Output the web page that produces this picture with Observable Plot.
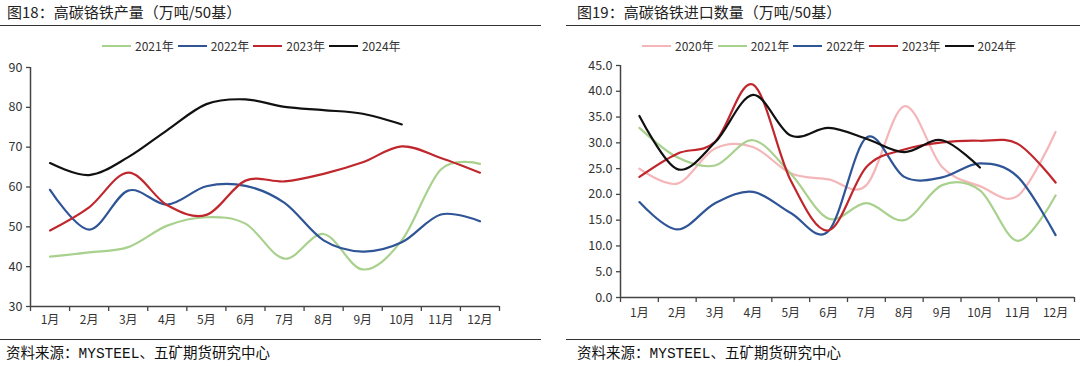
<!DOCTYPE html>
<html>
<head>
<meta charset="utf-8">
<script src="https://cdn.jsdelivr.net/npm/d3@7"></script>
<script src="https://cdn.jsdelivr.net/npm/@observablehq/plot@0.6"></script>
<style>
  html, body { margin: 0; padding: 0; background: #fff; }
  body { width: 1080px; height: 367px; position: relative; overflow: hidden; font-family: "Noto Sans CJK SC", "Noto Sans", sans-serif; color: #222; }
  .title { position: absolute; top: 2px; font-size: 15px; line-height: 20px; color: #222; white-space: nowrap; }
  .rule { position: absolute; height: 0; border-top: 1.4px solid #333; }
  .source { position: absolute; top: 344px; font-size: 14.5px; line-height: 20px; color: #111; white-space: nowrap; font-family: "Liberation Mono", "Noto Sans CJK SC", monospace; }
  .legend { position: absolute; top: 38px; display: flex; align-items: center; font-size: 12px; line-height: 16px; color: #333; white-space: nowrap; }
  .legend .item { display: flex; align-items: center; margin-right: 4px; }
  .legend .sw { width: 29px; height: 0; border-top: 2.5px solid; margin-right: 4px; }
  .chart { position: absolute; top: 55px; }
</style>
</head>
<body>
<div class="title" style="left:7px">图18：高碳铬铁产量（万吨/50基）</div>
<div class="title" style="left:577px">图19：高碳铬铁进口数量（万吨/50基）</div>
<div class="rule" style="left:0;width:541px;top:25px"></div>
<div class="rule" style="left:566px;width:514px;top:25px"></div>
<div class="rule" style="left:0;width:541px;top:339px"></div>
<div class="rule" style="left:566px;width:514px;top:339px"></div>
<div class="source" style="left:6px">资料来源：MYSTEEL、五矿期货研究中心</div>
<div class="source" style="left:577px">资料来源：MYSTEEL、五矿期货研究中心</div>
<div class="legend" id="leg1" style="left:102px"></div>
<div class="legend" id="leg2" style="left:642px"></div>
<div class="chart" id="c1" style="left:0"></div>
<div class="chart" id="c2" style="left:560px"></div>
<script>
const months = ["1月","2月","3月","4月","5月","6月","7月","8月","9月","10月","11月","12月"];

// Chart 1: 高碳铬铁产量
const prodYears = ["2021年","2022年","2023年","2024年"];
const prod2021 = [42.5, 43.6, 44.9, 50.3, 52.4, 50.8, 42.0, 48.2, 39.3, 46.6, 64.4, 65.8];
const prod2022 = [59.3, 49.3, 59.1, 55.6, 60.2, 60.3, 56.0, 46.6, 43.8, 46.1, 53.1, 51.4];
const prod2023 = [49.1, 54.9, 63.6, 55.4, 53.0, 61.6, 61.4, 63.3, 66.2, 70.2, 67.3, 63.6];
const prod2024 = [66.0, 63.0, 67.5, 74.3, 80.8, 82.0, 80.1, 79.3, 78.4, 75.7];
const prodTicks = [30, 40, 50, 60, 70, 80, 90];

// Chart 2: 高碳铬铁进口数量
const impYears = ["2020年","2021年","2022年","2023年","2024年"];
const imp2020 = [25.0, 22.1, 28.9, 29.2, 24.1, 22.9, 21.8, 37.1, 25.3, 21.6, 19.7, 32.1];
const imp2021 = [32.9, 27.2, 25.6, 30.5, 24.0, 15.3, 18.3, 15.0, 21.8, 20.8, 11.0, 19.8];
const imp2022 = [18.5, 13.2, 18.3, 20.5, 16.4, 12.9, 31.0, 23.4, 23.3, 26.0, 23.4, 12.1];
const imp2023 = [23.4, 27.9, 30.2, 41.3, 22.7, 13.0, 25.3, 28.7, 30.1, 30.4, 29.8, 22.3];
const imp2024 = [35.2, 24.9, 30.1, 39.3, 31.4, 32.9, 30.8, 28.2, 30.5, 25.2];
const impTicks = [0, 5, 10, 15, 20, 25, 30, 35, 40, 45];

const prodColors = ["#a9d18e", "#2f5597", "#c0272d", "#111111"];
const impColors = ["#f4b6b8", "#a9d18e", "#2f5597", "#c0272d", "#111111"];

function toRows(years, series) {
  const rows = [];
  years.forEach((y, k) => series[k].forEach((v, i) => rows.push({year: y, m: i + 0.5, v})));
  return rows;
}

function legend(el, years, colors) {
  const d = document.getElementById(el);
  years.forEach((y, k) => {
    const it = document.createElement("div");
    it.className = "item";
    const sw = document.createElement("div");
    sw.className = "sw";
    sw.style.borderTopColor = colors[k];
    const t = document.createElement("span");
    t.textContent = y;
    it.appendChild(sw); it.appendChild(t);
    d.appendChild(it);
  });
}
legend("leg1", prodYears, prodColors);
legend("leg2", impYears, impColors);

const edges = d3.range(0, 13);
const centers = d3.range(0, 12).map(i => i + 0.5);

function chart(opts) {
  const rows = toRows(opts.years, opts.series);
  return Plot.plot({
    width: opts.width,
    height: 285,
    marginLeft: opts.ml,
    marginRight: opts.mr,
    marginTop: opts.mt,
    marginBottom: opts.mb,
    style: {fontFamily: "'Noto Sans CJK SC', 'Noto Sans', sans-serif", fontSize: "12px", color: "#333", background: "transparent"},
    x: {domain: [0, 12], axis: null, label: null},
    y: {domain: opts.ydomain, axis: null, label: null},
    color: {domain: opts.years, range: opts.colors},
    marks: [
      Plot.axisX({ticks: edges, tickFormat: () => "", tickSize: 5, stroke: "#444", strokeWidth: 1.3, label: null}),
      Plot.axisX({ticks: centers, tickFormat: d => months[Math.floor(d)], tickSize: 0, tickPadding: opts.xpad, fill: "#333", fontSize: 12, label: null}),
      Plot.axisY({ticks: opts.yticks, tickFormat: opts.yfmt, tickSize: 4, tickPadding: opts.ypad, stroke: "#444", strokeWidth: 1.3, fill: "#333", fontSize: 12.5, label: null}),
      Plot.ruleX([0], {stroke: "#444", strokeWidth: 1.5}),
      Plot.ruleY([opts.ydomain[0]], {stroke: "#444", strokeWidth: 1.5}),
      Plot.line(rows, {x: "m", y: "v", z: "year", stroke: "year", strokeWidth: 2.2, curve: "cardinal"})
    ]
  });
}

document.getElementById("c1").appendChild(chart({
  width: 541, ml: 30, mr: 42, mt: 12, mb: 34, xpad: 9, ypad: 4,
  years: prodYears, series: [prod2021, prod2022, prod2023, prod2024], colors: prodColors,
  ydomain: [30, 90], yticks: prodTicks, yfmt: d3.format("d")
}));
document.getElementById("c2").appendChild(chart({
  width: 520, ml: 60, mr: 6, mt: 10, mb: 43, xpad: 11, ypad: 4,
  years: impYears, series: [imp2020, imp2021, imp2022, imp2023, imp2024], colors: impColors,
  ydomain: [0, 45], yticks: impTicks, yfmt: d3.format(".1f")
}));
</script>
</body>
</html>
